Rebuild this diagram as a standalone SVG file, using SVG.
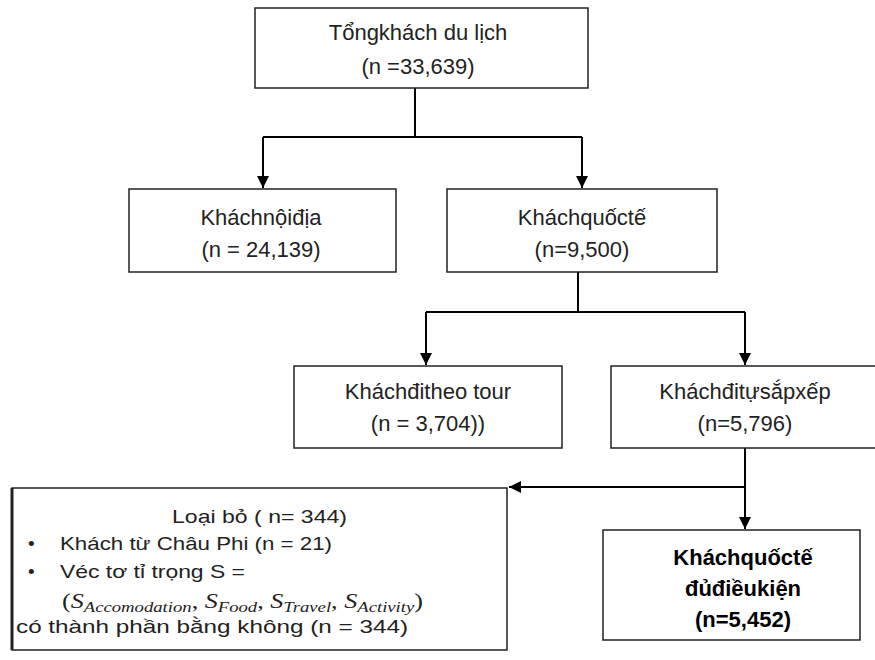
<svg xmlns="http://www.w3.org/2000/svg" width="875" height="660" viewBox="0 0 875 660">
<defs>
<style>
.box{fill:#fff;stroke:#222;stroke-width:1.5}
.lbl{font-family:"Liberation Sans",Arial,sans-serif;font-size:22px;fill:#222;text-anchor:middle}
.bold{font-weight:bold;fill:#000}
.ex{font-family:"Liberation Sans",Arial,sans-serif;font-size:19px;fill:#222}
.m{font-family:"Liberation Serif","Times New Roman",serif;font-style:italic;fill:#222}
.conn{fill:none;stroke:#000;stroke-width:2}
</style>
<marker id="ah" viewBox="0 0 10 10" refX="10" refY="5" markerWidth="6" markerHeight="6" markerUnits="strokeWidth" orient="auto">
<path d="M0,0 L10,5 L0,10 z" fill="#000"/>
</marker>
</defs>
<rect width="875" height="660" fill="#fff"/>

<g id="connectors">
<path class="conn" d="M415,88 V137 M263,137 H582"/>
<path class="conn" d="M263,137 V188" marker-end="url(#ah)"/>
<path class="conn" d="M582,137 V188" marker-end="url(#ah)"/>
<path class="conn" d="M578,272 V312 M426,312 H745"/>
<path class="conn" d="M426,312 V365" marker-end="url(#ah)"/>
<path class="conn" d="M745,312 V365" marker-end="url(#ah)"/>
<path class="conn" d="M745,448 V529" marker-end="url(#ah)"/>
<path class="conn" d="M745,487 H509" marker-end="url(#ah)"/>
</g>

<g id="total">
<rect class="box" x="255" y="8" width="333" height="80" stroke-width="2"/>
<text class="lbl" x="418" y="40">Tổngkhách du lịch</text>
<text class="lbl" x="418" y="74">(n =33,639)</text>
</g>

<g id="domestic">
<rect class="box" x="129" y="189" width="267" height="83"/>
<text class="lbl" x="261" y="225">Kháchnộiđịa</text>
<text class="lbl" x="261" y="257">(n = 24,139)</text>
</g>

<g id="international">
<rect class="box" x="447" y="189" width="270" height="83"/>
<text class="lbl" x="582" y="225">Kháchquốctế</text>
<text class="lbl" x="582" y="257">(n=9,500)</text>
</g>

<g id="tour">
<rect class="box" x="294" y="366" width="268" height="82"/>
<text class="lbl" x="428" y="399">Kháchđitheo tour</text>
<text class="lbl" x="428" y="431">(n = 3,704))</text>
</g>

<g id="self">
<rect class="box" x="611" y="366" width="270" height="82"/>
<text class="lbl" x="745" y="399">Kháchđitựsắpxếp</text>
<text class="lbl" x="745" y="431">(n=5,796)</text>
</g>

<g id="excluded">
<rect class="box" x="12" y="488" width="495" height="162"/>
<line x1="12" y1="488" x2="12" y2="650" stroke="#222" stroke-width="3"/>
<text class="ex" x="172" y="523" textLength="175" lengthAdjust="spacingAndGlyphs">Loại bỏ ( n= 344)</text>
<text class="ex" x="28" y="550">•</text>
<text class="ex" x="60" y="550" textLength="272" lengthAdjust="spacingAndGlyphs">Khách từ Châu Phi (n = 21)</text>
<text class="ex" x="28" y="578">•</text>
<text class="ex" x="60" y="578" textLength="185" lengthAdjust="spacingAndGlyphs">Véc tơ tỉ trọng S =</text>
<text class="m" x="62" y="608" font-size="21" textLength="361" lengthAdjust="spacingAndGlyphs"><tspan font-style="normal">(</tspan>S<tspan font-size="15" dy="4">Accomodation</tspan><tspan dy="-4" font-style="normal">, </tspan>S<tspan font-size="15" dy="4">Food</tspan><tspan dy="-4" font-style="normal">, </tspan>S<tspan font-size="15" dy="4">Travel</tspan><tspan dy="-4" font-style="normal">, </tspan>S<tspan font-size="15" dy="4">Activity</tspan><tspan dy="-4" font-style="normal">)</tspan></text>
<text class="ex" x="16" y="633" textLength="392" lengthAdjust="spacingAndGlyphs">có thành phần bằng không (n = 344)</text>
</g>

<g id="eligible">
<rect class="box" x="603" y="530" width="257" height="110"/>
<text class="lbl bold" x="743" y="565">Kháchquốctế</text>
<text class="lbl bold" x="743" y="596">đủđiềukiện</text>
<text class="lbl bold" x="743" y="627">(n=5,452)</text>
</g>
</svg>
